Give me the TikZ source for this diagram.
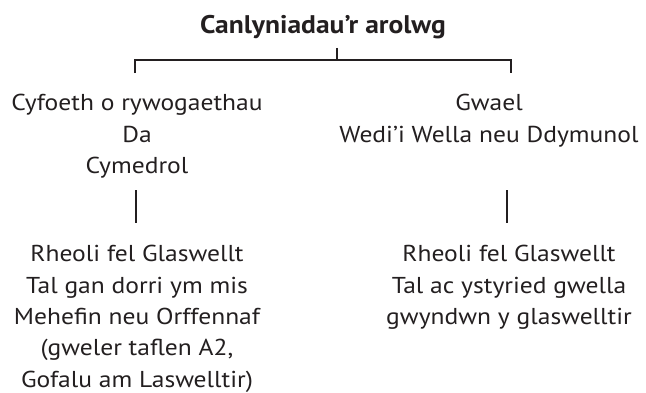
\documentclass[tikz,border=0pt]{standalone}
\usepackage{fontspec}
\setmainfont{PT Sans}[FakeStretch=1.11]
\newfontfamily\titlefont{PT Sans}[FakeStretch=1.08]
\definecolor{ink}{HTML}{231F20}
\begin{document}
\begin{tikzpicture}[x=1pt,y=1pt,
  txt/.style={anchor=base,inner sep=0pt,text=ink,font=\fontsize{23}{32}\selectfont},
  ttl/.style={anchor=base,inner sep=0pt,text=ink,font=\titlefont\fontsize{25.5}{32}\selectfont\bfseries},
  conn/.style={draw=ink,line width=2pt}]
\useasboundingbox (0,0) rectangle (646,392);
% title
\node[ttl] (title) at (323,359) {Canlyniadau’r arolwg};
% bracket coordinates
\coordinate (tt) at (337,344);
\coordinate (tb) at (337,332);
\coordinate (bl) at (135,332);
\coordinate (br) at (511,332);
\coordinate (blend) at (135,319);
\coordinate (brend) at (511,319);
\draw[conn] (tt) -- (tb);
\draw[conn] (blend) -- (bl) -- (br) -- (brend);
% left top
\node[txt] (lt1) at (137,282) {Cyfoeth o rywogaethau};
\node[txt] (lt2) at (137,250) {Da};
\node[txt] (lt3) at (137,219) {Cymedrol};
% right top
\node[txt] (rt1) at (489,282) {Gwael};
\node[txt] (rt2) at (489,250) {Wedi’i Wella neu Ddymunol};
% vertical connectors
\coordinate (lvt) at (136,202);
\coordinate (lvb) at (136,169);
\coordinate (rvt) at (507,202);
\coordinate (rvb) at (507,169);
\draw[conn] (lvt) -- (lvb);
\draw[conn] (rvt) -- (rvb);
% left bottom
\node[txt] (lb1) at (137,131) {Rheoli fel Glaswellt};
\node[txt] (lb2) at (137,99) {Tal gan dorri ym mis};
\node[txt] (lb3) at (137,68) {Mehefin neu Orffennaf};
\node[txt] (lb4) at (137,36.5) {(gweler taflen A2,};
\node[txt] (lb5) at (137,5) {Gofalu am Laswelltir)};
% right bottom
\node[txt] (rb1) at (509,131) {Rheoli fel Glaswellt};
\node[txt] (rb2) at (509,99) {Tal ac ystyried gwella};
\node[txt] (rb3) at (509,68) {gwyndwn y glaswelltir};
\end{tikzpicture}
\end{document}
